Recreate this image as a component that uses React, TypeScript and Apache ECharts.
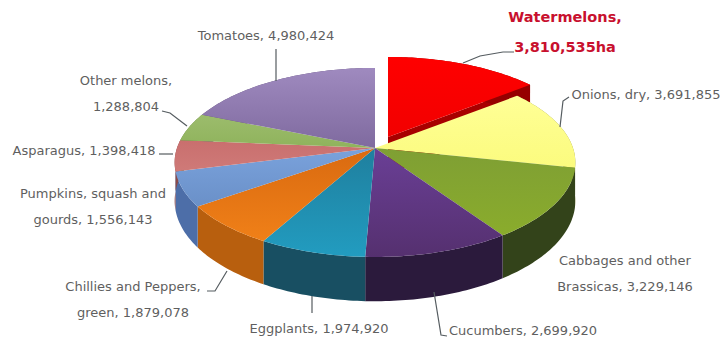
import React, { useEffect, useRef } from "react";
import * as echarts from "echarts";

// Harvested area by crop, clockwise from twelve o'clock.
const crops = [
  "Watermelons",
  "Onions, dry",
  "Cabbages and other Brassicas",
  "Cucumbers",
  "Eggplants",
  "Chillies and Peppers, green",
  "Pumpkins, squash and gourds",
  "Asparagus",
  "Other melons",
  "Tomatoes",
];
const areaHa = [3810535, 3691855, 3229146, 2699920, 1974920, 1879078, 1556143, 1398418, 1288804, 4980424];

const topColors = [
  ["#ff0000", "#f20000"],
  ["#ffff96", "#fbfb7e"],
  ["#7f9f34", "#8aac2c"],
  ["#6a3f96", "#55306f"],
  ["#1f7f9e", "#229cc0"],
  ["#d96a10", "#f08018"],
  ["#7aa2dc", "#6a90c8"],
  ["#c96f6e", "#cf7a78"],
  ["#9cbc6c", "#8fb35c"],
  ["#9f8abf", "#7f6a9f"],
];
const wallColors = [
  "#960000",
  "#8f8f40",
  "#33431a",
  "#2b1a3c",
  "#184f62",
  "#b85f0e",
  "#4d6ea8",
  "#8a4a4a",
  "#66803e",
  "#5f4e78",
];

// Perspective projection of the pie's disc onto the page.
const APEX_X = 375;
const APEX_Y = 148;
const RADIUS_X = 198;
const RADIUS_Y = 92.3;
const TILT = 0.153;
const DEPTH = 37.5;
const EXPLODE_X = 13;
const EXPLODE_Y = -11;

const project = (deg: number, r: number, drop: number, shift: number) => {
  const a = (deg * Math.PI) / 180;
  const u = r * Math.sin(a);
  const v = r * Math.cos(a);
  const w = 1 + TILT * v;
  return [
    APEX_X + (RADIUS_X * u) / w + shift * EXPLODE_X,
    APEX_Y - (RADIUS_Y * v) / w + (drop * DEPTH) / w + shift * EXPLODE_Y,
  ];
};

const total = areaHa.reduce((s, v) => s + v, 0);
let running = 0;
const rows = areaHa.map((value, i) => {
  const start = (running / total) * 360;
  running += value;
  return { name: crops[i], value: [value, start, (running / total) * 360, i] };
});

const arcPoints = (from: number, to: number, drop: number, shift: number) => {
  const pts: number[][] = [];
  const steps = Math.max(2, Math.ceil(to - from));
  for (let s = 0; s <= steps; s++) pts.push(project(from + ((to - from) * s) / steps, 1, drop, shift));
  return pts;
};

const renderWall = (_: unknown, api: any) => {
  const start = api.value(1);
  const end = api.value(2);
  const i = api.value(3);
  const shift = i === 0 ? 1 : 0;
  const rim = arcPoints(start, end, 0, shift);
  const foot = arcPoints(start, end, 1, shift).reverse();
  const fill = wallColors[i];
  const children: any[] = [
    { type: "polygon", shape: { points: rim.concat(foot) }, style: { fill } },
  ];
  if (shift) {
    // The pulled-out slice also shows its cut face.
    const apex = project(0, 0, 0, 1);
    const apexFoot = project(0, 0, 1, 1);
    const last = rim[rim.length - 1];
    const lastFoot = foot[0];
    children.unshift({
      type: "polygon",
      shape: { points: [apex, last, lastFoot, apexFoot] },
      style: { fill: "#a80000" },
    });
  }
  return { type: "group", children };
};

const renderTop = (_: unknown, api: any) => {
  const start = api.value(1);
  const end = api.value(2);
  const i = api.value(3);
  const shift = i === 0 ? 1 : 0;
  const points = [project(0, 0, 0, shift), ...arcPoints(start, end, 0, shift)];
  return {
    type: "polygon",
    shape: { points },
    style: {
      fill: new echarts.graphic.LinearGradient(0, 0, 0, 1, [
        { offset: 0, color: topColors[i][0] },
        { offset: 1, color: topColors[i][1] },
      ]),
    },
  };
};

const fmt = (n: number) => n.toLocaleString("en-US");
const labelTexts = [
  `Watermelons,\n${fmt(areaHa[0])}ha`,
  `Onions, dry, ${fmt(areaHa[1])}`,
  `Cabbages and other\nBrassicas, ${fmt(areaHa[2])}`,
  `Cucumbers, ${fmt(areaHa[3])}`,
  `Eggplants, ${fmt(areaHa[4])}`,
  `Chillies and Peppers,\ngreen, ${fmt(areaHa[5])}`,
  `Pumpkins, squash and\ngourds, ${fmt(areaHa[6])}`,
  `Asparagus, ${fmt(areaHa[7])}`,
  `Other melons,\n${fmt(areaHa[8])}`,
  `Tomatoes, ${fmt(areaHa[9])}`,
];
const labelAnchors = [
  [565, 32],
  [646, 94],
  [625, 273],
  [523, 330],
  [319, 328],
  [133, 299],
  [93, 206],
  [84, 150],
  [126, 93],
  [266, 35],
];
const leaders = [
  [[463, 63], [480, 56], [503, 52], [514, 52]],
  [[560, 127], [563, 101], [569, 97]],
  [],
  [[434, 292], [441, 335], [447, 336]],
  [[312, 296], [312, 313]],
  [[227, 271], [215, 291], [207, 291]],
  [],
  [[173, 154], [159, 154]],
  [[187, 126], [170, 113], [162, 111]],
  [[276, 81], [276, 49]],
];

export default function App() {
  const ref = useRef<HTMLDivElement>(null);
  useEffect(() => {
    const chart = echarts.init(ref.current!, undefined, { renderer: "svg" });
    const data = rows;
    chart.setOption({
      animation: false,
      backgroundColor: "#ffffff",
      series: [
        { type: "custom", coordinateSystem: "none", z: 1, renderItem: renderWall, data, silent: true },
        { type: "custom", coordinateSystem: "none", z: 2, renderItem: renderTop, data, silent: true },
      ],
      graphic: [
        ...leaders
          .filter((l) => l.length)
          .map((points) => ({
            type: "polyline",
            z: 5,
            shape: { points },
            style: { stroke: "#555c60", lineWidth: 1.2, fill: "none" },
          })),
        ...labelTexts.map((text, i) => ({
          type: "text",
          z: 6,
          x: labelAnchors[i][0],
          y: labelAnchors[i][1],
          style: {
            text,
            align: "center",
            verticalAlign: "middle",
            fontFamily: "DejaVu Sans",
            fontSize: i === 0 ? 14.5 : 13,
            fontWeight: i === 0 ? "bold" : "normal",
            lineHeight: i === 0 ? 30 : 26,
            fill: i === 0 ? "#c8102e" : "#5f5f5f",
          },
        })),
      ],
    });
    return () => chart.dispose();
  }, []);
  return <div ref={ref} style={{ position: "fixed", left: 0, top: 0, width: 722, height: 341 }} />;
}
